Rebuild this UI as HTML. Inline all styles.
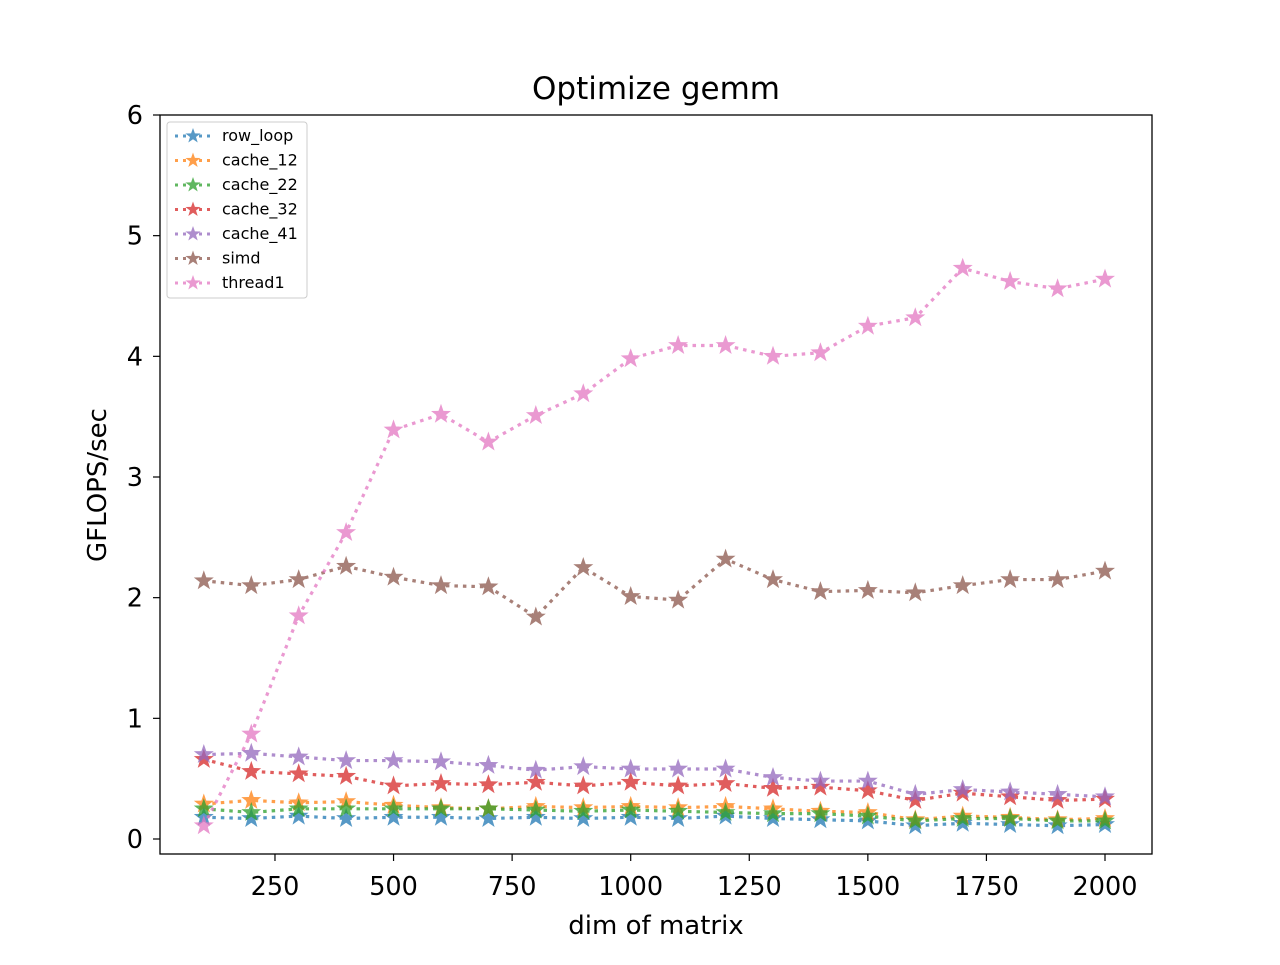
<!DOCTYPE html>
<html><head><meta charset="utf-8"><style>body{margin:0;background:#fff}svg text{font-family:"DejaVu Sans","Liberation Sans",sans-serif}</style></head>
<body>
<svg id="chart" width="1280" height="960" xmlns="http://www.w3.org/2000/svg">
<rect width="1280" height="960" fill="#fff"/>
<text x="656" y="99" font-size="31" text-anchor="middle">Optimize gemm</text>
<g id="plot"></g>
<rect x="160" y="115" width="992" height="739" fill="none" stroke="#000" stroke-width="1.3"/>
<text x="656" y="934" font-size="26" text-anchor="middle">dim of matrix</text>
<text transform="translate(106,485) rotate(-90)" font-size="26" text-anchor="middle">GFLOPS/sec</text>
</svg>
<script>
const dims=[100,200,300,400,500,600,700,800,900,1000,1100,1200,1300,1400,1500,1600,1700,1800,1900,2000];
const seriesNames=["row_loop","cache_12","cache_22","cache_32","cache_41","simd","thread1"];
const rowLoop=[0.18,0.17,0.19,0.17,0.18,0.18,0.17,0.18,0.17,0.18,0.17,0.19,0.17,0.16,0.15,0.11,0.13,0.12,0.11,0.12];
const cache12=[0.29,0.32,0.30,0.31,0.28,0.26,0.25,0.27,0.26,0.27,0.26,0.27,0.25,0.23,0.22,0.16,0.19,0.18,0.16,0.17];
const cache22=[0.25,0.22,0.25,0.25,0.25,0.25,0.25,0.24,0.23,0.24,0.23,0.22,0.21,0.21,0.19,0.15,0.17,0.17,0.15,0.15];
const cache32=[0.66,0.56,0.54,0.52,0.44,0.46,0.45,0.47,0.44,0.47,0.44,0.46,0.42,0.43,0.40,0.32,0.38,0.35,0.32,0.33];
const cache41=[0.70,0.71,0.68,0.65,0.65,0.64,0.61,0.57,0.60,0.58,0.58,0.58,0.51,0.48,0.48,0.37,0.41,0.39,0.37,0.35];
const simd=[2.14,2.10,2.15,2.26,2.17,2.10,2.09,1.84,2.25,2.01,1.98,2.32,2.15,2.05,2.06,2.04,2.10,2.15,2.15,2.22];
const thread1=[0.11,0.87,1.85,2.54,3.39,3.52,3.29,3.51,3.69,3.98,4.09,4.09,4.00,4.03,4.25,4.32,4.73,4.62,4.56,4.64];
const xTicks=[250,500,750,1000,1250,1500,1750,2000];
const yTicks=[0,1,2,3,4,5,6];
const allSeries=[rowLoop,cache12,cache22,cache32,cache41,simd,thread1];
const colors=["#1f77b4","#ff7f0e","#2ca02c","#d62728","#9467bd","#8c564b","#e377c2"];
const NS="http://www.w3.org/2000/svg";
const xs=v=>1105-(2000-v)*0.4743;
const ys=v=>839-v*(724/6);
const g=document.getElementById('plot');
function mk(t,a,p){const e=document.createElementNS(NS,t);for(const k in a)e.setAttribute(k,a[k]);(p||g).appendChild(e);return e;}
function star(cx,cy,r){let p=[];for(let i=0;i<10;i++){const rr=i%2?r*0.4:r;const an=-Math.PI/2+i*Math.PI/5;p.push((cx+rr*Math.cos(an)).toFixed(1)+","+(cy+rr*Math.sin(an)).toFixed(1));}return p.join(" ");}
xTicks.forEach(v=>{const x=xs(v);
const t=mk('line',{x1:x,x2:x,y1:854,y2:861,stroke:'#000','stroke-width':1.2});

const l=mk('text',{x:x,y:895,'font-size':25.5,'text-anchor':'middle'});l.textContent=v;
});
yTicks.forEach(v=>{const y=ys(v);
const t=mk('line',{x1:153,x2:160,y1:y,y2:y,stroke:'#000','stroke-width':1.2});

const l=mk('text',{x:143,y:y+9,'font-size':25.5,'text-anchor':'end'});l.textContent=v;
});
allSeries.forEach((s,i)=>{
const sg=mk('g',{opacity:0.75});

const pl=mk('polyline',{points:s.map((v,j)=>xs(dims[j])+","+ys(v)).join(" "),fill:'none',stroke:colors[i],'stroke-width':3.2,'stroke-dasharray':'3.5,5'},sg);

s.forEach((v,j)=>{const m=mk('polygon',{points:star(xs(dims[j]),ys(v),10.5),fill:colors[i]},sg);
});
});
const lg=mk('g',{});

mk('rect',{x:167,y:122,width:140,height:176,rx:3,fill:'#fff',stroke:'#ccc','stroke-width':1},lg);
seriesNames.forEach((n,i)=>{const y=136+i*24.5;
const e=mk('g',{},lg);
const eg=mk('g',{opacity:0.75},e);
mk('line',{x1:175,x2:211,y1:y,y2:y,stroke:colors[i],'stroke-width':3,'stroke-dasharray':'3,5'},eg);
mk('polygon',{points:star(193,y,8),fill:colors[i]},eg);
const t=mk('text',{x:222,y:y+5,'font-size':16},e);t.textContent=n;});
</script>
</body></html>
